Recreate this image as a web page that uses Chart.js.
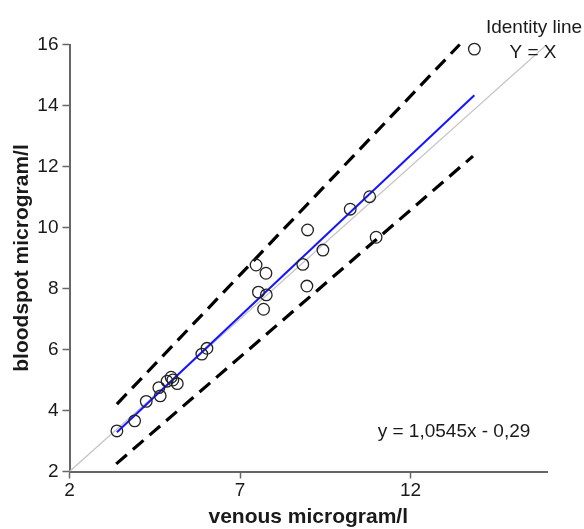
<!DOCTYPE html>
<html>
<head>
<meta charset="utf-8">
<script src="https://cdn.jsdelivr.net/npm/chart.js@4/dist/chart.umd.min.js"></script>
<style>
  html, body { margin: 0; padding: 0; background: #fff; }
  #wrap { width: 584px; height: 529px; position: relative; }
</style>
</head>
<body>
<div id="wrap"><canvas id="c" width="584" height="529"></canvas></div>
<script>
// ---- data ----
const venous    = [3.39, 3.91, 4.25, 4.66, 4.62, 4.86, 4.98, 5.03, 5.16, 5.88, 6.03,
                   7.47, 7.76, 7.54, 7.77, 7.69, 8.98, 8.84, 9.43, 8.96, 10.23, 10.80, 10.99, 13.87];
const bloodspot = [3.33, 3.66, 4.30, 4.48, 4.75, 4.96, 5.09, 5.00, 4.88, 5.85, 6.04,
                   8.77, 8.50, 7.88, 7.79, 7.32, 9.92, 8.79, 9.26, 8.08, 10.60, 11.01, 9.68, 15.85];
const fitSlope = 1.0545;
const fitIntercept = -0.29;
const upperLimitX = [3.39, 13.44];
const upperLimitY = [4.21, 16.0];
const lowerLimitX = [3.37, 13.83];
const lowerLimitY = [2.25, 12.34];
const identityXY = [2, 16];
const xTicks = [2, 7, 12];
const yTicks = [2, 4, 6, 8, 10, 12, 14, 16];
const xTitle = 'venous microgram/l';
const yTitle = 'bloodspot microgram/l';
const equationText = 'y = 1,0545x - 0,29';
const identityLabel = ['Identity line', 'Y = X'];

// ---- derived datasets ----
const points = venous.map((v, i) => ({ x: v, y: bloodspot[i] }));
const xMin = Math.min(...venous), xMax = Math.max(...venous);
const fitLine = [xMin, xMax].map(x => ({ x: x, y: fitSlope * x + fitIntercept }));
const upperLine = upperLimitX.map((x, i) => ({ x: x, y: upperLimitY[i] }));
const lowerLine = lowerLimitX.map((x, i) => ({ x: x, y: lowerLimitY[i] }));
const identityLine = identityXY.map(v => ({ x: v, y: v }));

const textPlugin = {
  id: 'texts',
  afterDraw(chart) {
    const ctx = chart.ctx;
    ctx.save();
    ctx.fillStyle = '#1a1a1a';
    ctx.textBaseline = 'alphabetic';
    // axis titles
    ctx.font = 'bold 21px "Liberation Sans", Arial, sans-serif';
    ctx.textAlign = 'center';
    ctx.fillText(xTitle, (chart.chartArea.left + chart.chartArea.right) / 2, 523);
    ctx.save();
    ctx.translate(28, (chart.chartArea.top + chart.chartArea.bottom) / 2);
    ctx.rotate(-Math.PI / 2);
    ctx.fillText(yTitle, 0, 0);
    ctx.restore();
    // annotations
    ctx.font = '19px "Liberation Sans", Arial, sans-serif';
    ctx.textAlign = 'center';
    ctx.fillText(equationText, 454, 436.5);
    ctx.fillText(identityLabel[0], 534, 32.5);
    ctx.fillText(identityLabel[1], 533, 58.3);
    ctx.restore();
  }
};

new Chart(document.getElementById('c'), {
  type: 'scatter',
  data: {
    datasets: [
      {
        label: 'Identity', type: 'line', data: identityLine,
        borderColor: '#c4c4c4', borderWidth: 1.3, pointRadius: 0, fill: false, order: 5
      },
      {
        label: 'Upper', type: 'line', data: upperLine, clip: false,
        borderColor: '#000', borderWidth: 3.2, borderDash: [14, 8], pointRadius: 0, fill: false, order: 4
      },
      {
        label: 'Lower', type: 'line', data: lowerLine,
        borderColor: '#000', borderWidth: 3.2, borderDash: [14, 8], pointRadius: 0, fill: false, order: 4
      },
      {
        label: 'Fit', type: 'line', data: fitLine,
        borderColor: '#1414ff', borderWidth: 2, pointRadius: 0, fill: false, order: 3
      },
      {
        label: 'Samples', data: points, clip: false,
        pointRadius: 5.8, pointHoverRadius: 5.8, pointBorderWidth: 1.3,
        pointBorderColor: '#222', pointBackgroundColor: 'rgba(0,0,0,0)', order: 1
      }
    ]
  },
  options: {
    responsive: false,
    animation: false,
    events: [],
    layout: { padding: { left: 0, top: 44.5, right: 37, bottom: 0 } },
    plugins: { legend: { display: false }, tooltip: { enabled: false } },
    scales: {
      x: {
        type: 'linear', min: 2, max: 16,
        afterBuildTicks: s => { s.ticks = xTicks.map(v => ({ value: v })); },
        afterFit: s => { s.height = 57.5; },
        border: { display: true, color: '#666', width: 2 },
        grid: { display: true, drawOnChartArea: false, drawTicks: true, tickLength: 7, color: '#666', tickWidth: 1.5 },
        ticks: { color: '#1a1a1a', padding: 1, font: { family: '"Liberation Sans", Arial, sans-serif', size: 19 }, maxRotation: 0, autoSkip: false }
      },
      y: {
        type: 'linear', min: 2, max: 16,
        afterBuildTicks: s => { s.ticks = yTicks.map(v => ({ value: v })); },
        afterFit: s => { s.width = 69.5; },
        border: { display: true, color: '#666', width: 2 },
        grid: { display: true, drawOnChartArea: false, drawTicks: true, tickLength: 7, color: '#666', tickWidth: 1.5 },
        ticks: { color: '#1a1a1a', padding: 4, font: { family: '"Liberation Sans", Arial, sans-serif', size: 19 }, autoSkip: false }
      }
    }
  },
  plugins: [textPlugin]
});
</script>
</body>
</html>
